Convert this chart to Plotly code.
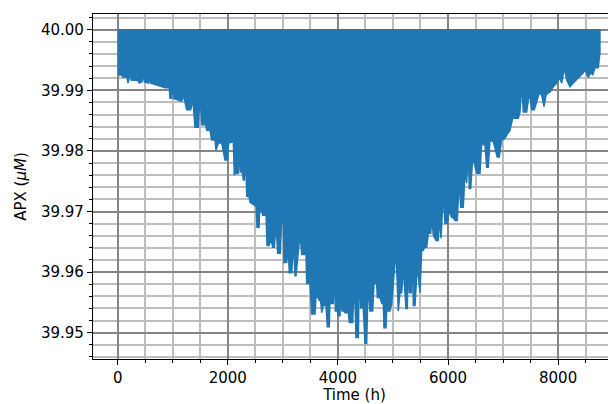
import plotly.graph_objects as go

# Lower envelope of the APX concentration trace (hours, µM)
time_h = [0, 42, 60, 87, 169, 187, 214, 223, 242, 369, 392, 441, 465, 483, 556, 574, 590, 700, 823, 859,
          937, 950, 981, 999, 1023, 1163, 1192, 1253, 1326, 1344, 1373, 1404, 1464, 1495, 1526, 1598, 1617, 1677, 1707, 1767,
          1786, 1828, 1889, 1918, 1949, 1991, 2016, 2100, 2118, 2143, 2191, 2209, 2227, 2263, 2282, 2300, 2325, 2343, 2385, 2403,
          2494, 2512, 2530, 2567, 2579, 2616, 2634, 2676, 2688, 2712, 2748, 2767, 2797, 2816, 2845, 2876, 2906, 2954, 2979, 3008,
          3020, 3070, 3094, 3118, 3161, 3190, 3221, 3239, 3281, 3312, 3342, 3420, 3433, 3493, 3524, 3584, 3602, 3644, 3662, 3687,
          3706, 3735, 3784, 3807, 3844, 3856, 3874, 3916, 3935, 3953, 3989, 4007, 4038, 4056, 4074, 4111, 4129, 4189, 4207, 4269,
          4280, 4311, 4329, 4371, 4389, 4414, 4461, 4492, 4523, 4550, 4583, 4632, 4656, 4705, 4716, 4765, 4795, 4825, 4837, 4874,
          4886, 4946, 4977, 5055, 5097, 5128, 5159, 5188, 5237, 5261, 5279, 5297, 5333, 5352, 5370, 5401, 5431, 5460, 5491, 5522,
          5551, 5582, 5613, 5642, 5686, 5704, 5733, 5782, 5824, 5842, 5873, 5915, 5945, 5987, 6023, 6067, 6096, 6127, 6169, 6205,
          6230, 6278, 6309, 6340, 6369, 6387, 6412, 6449, 6478, 6521, 6581, 6612, 6641, 6672, 6703, 6732, 6763, 6823, 6895, 6932,
          6975, 7035, 7066, 7126, 7175, 7277, 7308, 7339, 7368, 7429, 7459, 7489, 7520, 7568, 7611, 7658, 7702, 7744, 7780, 7822,
          7853, 7913, 7975, 8022, 8065, 8113, 8156, 8216, 8276, 8367, 8458, 8489, 8549, 8592, 8628, 8670, 8730, 8745, 8760]
apx_min = [39.9929, 39.9924, 39.9930, 39.9922, 39.9922, 39.9912, 39.9924, 39.9930, 39.9917, 39.9916, 39.9912, 39.9914, 39.9930, 39.9914, 39.9912, 39.9929, 39.9912, 39.9909, 39.9906, 39.9904,
           39.9904, 39.9887, 39.9887, 39.9917, 39.9886, 39.9882, 39.9892, 39.9868, 39.9868, 39.9876, 39.9876, 39.9839, 39.9839, 39.9894, 39.9843, 39.9843, 39.9834, 39.9834, 39.9818, 39.9818,
           39.9801, 39.9813, 39.9813, 39.9798, 39.9785, 39.9785, 39.9813, 39.9815, 39.9760, 39.9763, 39.9763, 39.9806, 39.9765, 39.9765, 39.9752, 39.9752, 39.9796, 39.9725, 39.9725, 39.9715,
           39.9710, 39.9720, 39.9674, 39.9674, 39.9702, 39.9702, 39.9694, 39.9694, 39.9715, 39.9644, 39.9644, 39.9649, 39.9649, 39.9641, 39.9641, 39.9680, 39.9631, 39.9631, 39.9694, 39.9677,
           39.9616, 39.9616, 39.9644, 39.9599, 39.9599, 39.9649, 39.9594, 39.9594, 39.9636, 39.9664, 39.9629, 39.9629, 39.9581, 39.9581, 39.9531, 39.9531, 39.9558, 39.9558, 39.9553, 39.9553,
           39.9533, 39.9545, 39.9545, 39.9510, 39.9510, 39.9558, 39.9548, 39.9548, 39.9623, 39.9536, 39.9536, 39.9528, 39.9528, 39.9598, 39.9536, 39.9536, 39.9533, 39.9533, 39.9517, 39.9517,
           39.9548, 39.9548, 39.9492, 39.9492, 39.9608, 39.9541, 39.9541, 39.9482, 39.9482, 39.9583, 39.9536, 39.9536, 39.9581, 39.9581, 39.9558, 39.9558, 39.9548, 39.9548, 39.9508, 39.9508,
           39.9536, 39.9536, 39.9548, 39.9636, 39.9536, 39.9566, 39.9566, 39.9608, 39.9540, 39.9540, 39.9652, 39.9566, 39.9566, 39.9656, 39.9545, 39.9545, 39.9594, 39.9594, 39.9566, 39.9636,
           39.9636, 39.9641, 39.9641, 39.9664, 39.9664, 39.9690, 39.9661, 39.9652, 39.9652, 39.9690, 39.9656, 39.9730, 39.9680, 39.9680, 39.9702, 39.9690, 39.9690, 39.9685, 39.9685, 39.9757,
           39.9707, 39.9707, 39.9765, 39.9747, 39.9801, 39.9738, 39.9738, 39.9790, 39.9780, 39.9763, 39.9763, 39.9815, 39.9810, 39.9810, 39.9773, 39.9773, 39.9818, 39.9815, 39.9790, 39.9790,
           39.9818, 39.9821, 39.9826, 39.9834, 39.9854, 39.9854, 39.9864, 39.9912, 39.9864, 39.9864, 39.9884, 39.9892, 39.9868, 39.9868, 39.9881, 39.9896, 39.9892, 39.9873, 39.9892, 39.9896,
           39.9897, 39.9906, 39.9912, 39.9921, 39.9912, 39.9937, 39.9917, 39.9906, 39.9912, 39.9921, 39.9929, 39.9934, 39.9921, 39.9930, 39.9925, 39.9937, 39.9937, 39.9950, 39.9962]
# Upper level the trace returns to
top_time_h = [8760, 0]
top_apx = [40.00, 40.00]

x_ticks = [0, 2000, 4000, 6000, 8000]
y_ticks = [39.95, 39.96, 39.97, 39.98, 39.99, 40.00]

BLUE = "#1f77b4"
MAJOR = "#858585"
MINOR = "#bdbdbd"
FONT = "DejaVu Sans"

fig = go.Figure()
fig.add_trace(go.Scatter(
    x=time_h + top_time_h,
    y=apx_min + top_apx,
    mode="lines",
    fill="toself",
    fillcolor=BLUE,
    line=dict(color=BLUE, width=1.5),
    hoverinfo="skip",
    showlegend=False,
))

fig.update_layout(
    width=608, height=396,
    margin=dict(l=85, r=0, t=6, b=45, autoexpand=False),
    paper_bgcolor="white", plot_bgcolor="white",
    font=dict(family=FONT, size=15, color="black"),
)
fig.update_xaxes(
    range=[-449, 9052], automargin=False,
    tickmode="array", tickvals=x_ticks, ticktext=[str(v) for v in x_ticks],
    ticks="outside", ticklen=5, tickwidth=1.2, tickcolor="black",
    showline=True, linecolor="black", linewidth=1.2, mirror=True,
    showgrid=True, gridcolor=MAJOR, gridwidth=1.5,
    zeroline=False,
    minor=dict(dtick=500, tick0=0, ticks="outside", ticklen=3, tickwidth=1, tickcolor="black",
               showgrid=True, gridcolor=MINOR, gridwidth=1.5),
    title=dict(text="Time (h)", font=dict(family=FONT, size=15), standoff=11),
)
fig.update_yaxes(
    range=[39.94566, 40.00259], automargin=False,
    tickmode="array", tickvals=y_ticks, ticktext=[f"{v:.2f}" for v in y_ticks],
    ticks="outside", ticklen=5, tickwidth=1.2, tickcolor="black",
    showline=True, linecolor="black", linewidth=1.2, mirror=False,
    showgrid=True, gridcolor=MAJOR, gridwidth=1.5,
    zeroline=False,
    minor=dict(dtick=0.002, tick0=40.0, ticks="outside", ticklen=3, tickwidth=1, tickcolor="black",
               showgrid=True, gridcolor=MINOR, gridwidth=1.5),
    title=dict(text="APX (<i>μM</i>)", font=dict(family=FONT, size=15), standoff=10),
)

fig.write_html("out.html")
